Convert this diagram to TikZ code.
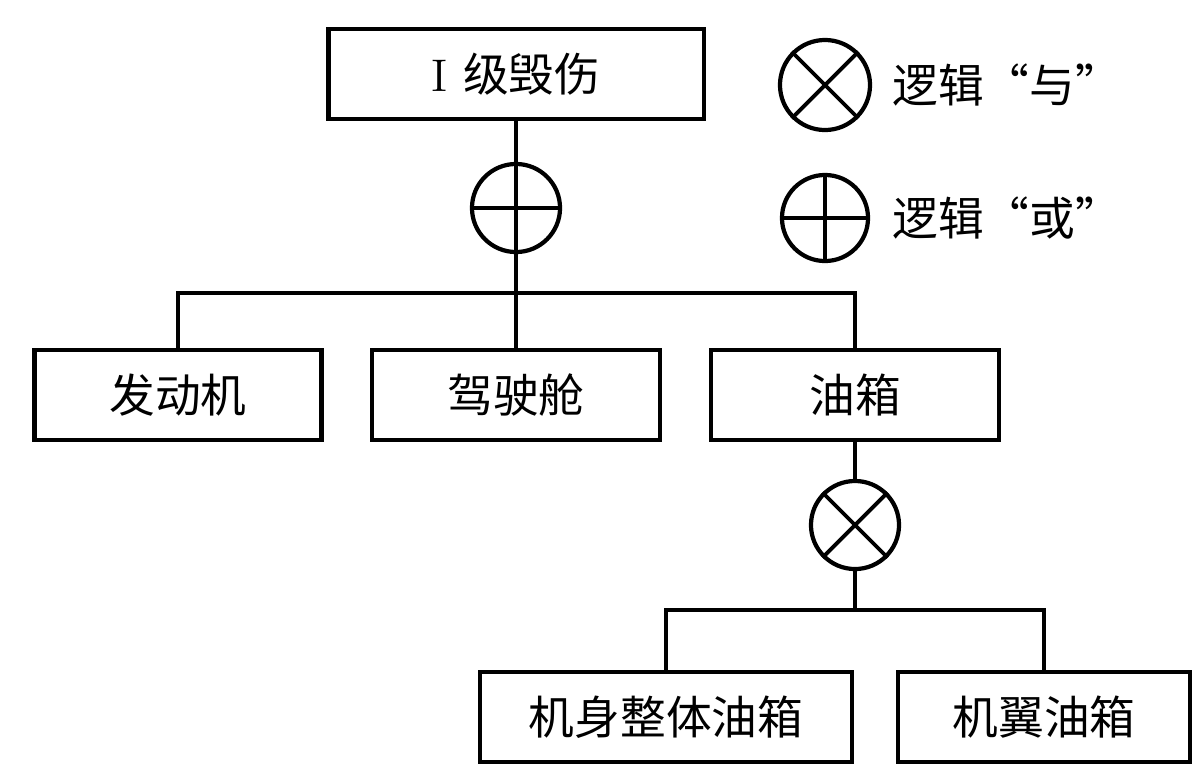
\documentclass[tikz,border=0pt]{standalone}
\usepackage{fontspec}
\newfontfamily\cjk{Noto Sans CJK SC}
\begin{document}
\begin{tikzpicture}[x=0.01cm,y=-0.01cm,
  box/.style={draw,line width=1.2pt,minimum height=0.9cm,inner sep=0pt,font=\cjk\fontsize{13}{15}\selectfont},
  gate/.style={draw,circle,line width=1.2pt,minimum size=#1,inner sep=0pt},
  ln/.style={line width=1.1pt},
  lbl/.style={font=\cjk\fontsize{13}{15}\selectfont,anchor=west}]
\useasboundingbox (0,0) rectangle (1200,778);
\node[box,minimum width=3.75cm] (top) at (516,74) {\rmfamily I\,\,\cjk 级毁伤};
\node[gate=0.88cm] (or) at (516,208) {};
\draw[ln] (or.north) -- (or.south) (or.west) -- (or.east);
\node[box,minimum width=2.87cm] (e) at (178,395) {发动机};
\node[box,minimum width=2.88cm] (c) at (516,395) {驾驶舱};
\node[box,minimum width=2.88cm] (t) at (855,395) {油箱};
\node[gate=0.88cm] (and) at (855,525) {};
\draw[ln] (and.north west) -- (and.south east) (and.north east) -- (and.south west);
\node[box,minimum width=3.72cm] (b) at (666,717) {机身整体油箱};
\node[box,minimum width=2.92cm] (w) at (1044,717) {机翼油箱};
\coordinate (h1) at (516,293);
\coordinate (h2) at (855,610);
\draw[ln] (top.south) -- (or.north);
\draw[ln] (or.south) -- (h1);
\draw[ln] (e.north) |- (h1) -| (t.north);
\draw[ln] (h1) -- (c.north);
\draw[ln] (t.south) -- (and.north);
\draw[ln] (and.south) -- (h2);
\draw[ln] (b.north) |- (h2) -| (w.north);
\node[gate=0.9cm] (la) at (825,85) {};
\draw[ln] (la.north west) -- (la.south east) (la.north east) -- (la.south west);
\node[lbl] (lat) at (880,85) {逻辑“与”};
\node[gate=0.86cm] (lo) at (825,218) {};
\draw[ln] (lo.north) -- (lo.south) (lo.west) -- (lo.east);
\node[lbl] (lot) at (880,218) {逻辑“或”};
\end{tikzpicture}
\end{document}
